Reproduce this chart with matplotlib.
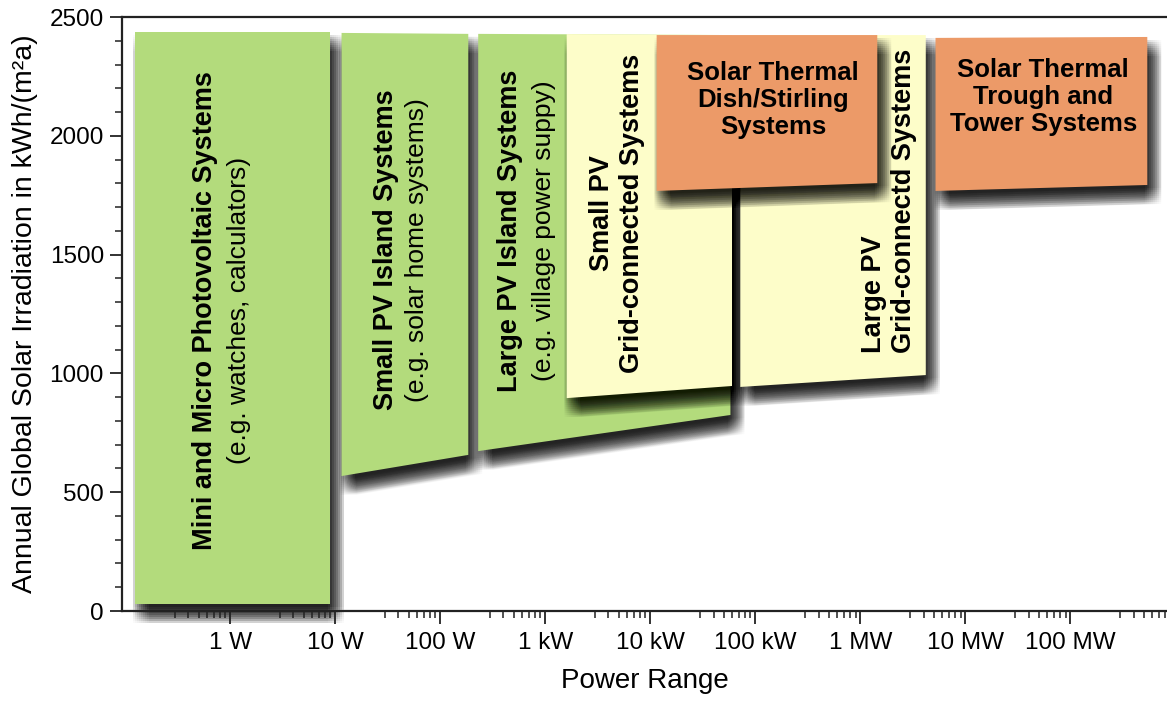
import matplotlib
matplotlib.use("Agg")
import matplotlib.pyplot as plt
from matplotlib.patches import Polygon
from matplotlib.transforms import ScaledTranslation
from matplotlib.ticker import FixedLocator, NullFormatter

plt.rcParams['font.family'] = ['Liberation Sans', 'DejaVu Sans']

# power ranges (W) and irradiation ranges (kWh/(m²a)) of each system type
systems = ["Mini/Micro PV", "Small PV island", "Large PV island", "Small PV grid",
           "Large PV grid", "Dish/Stirling", "Trough/Tower"]
power_min = [0.125, 11.5, 230, 1600, 72000, 11500, 5.2e6]
power_max = [9.0, 185, 58000, 60000, 4.2e6, 1.45e6, 5.4e8]
irr_top_left = [2435, 2433, 2429, 2428, 2424, 2424, 2412]
irr_top_right = [2435, 2429, 2424, 2424, 2424, 2424, 2416]
irr_bot_left = [30, 568, 673, 896, 943, 1768, 1768]
irr_bot_right = [30, 657, 825, 947, 993, 1801, 1793]

green = "#b3db7c"
yellow = "#fdfdc9"
orange = "#ec9a68"
box_colors = [green, green, green, yellow, yellow, orange, orange]

x_ticks = [1, 10, 100, 1e3, 1e4, 1e5, 1e6, 1e7, 1e8]
x_ticklabels = ["1 W", "10 W", "100 W", "1 kW", "10 kW", "100 kW", "1 MW", "10 MW", "100 MW"]
y_ticks = [0, 500, 1000, 1500, 2000, 2500]

fig = plt.figure(figsize=(11.67, 7.04), dpi=100)
ax = fig.add_axes([122 / 1167, 93 / 704, 1045 / 1167, 594 / 704])
ax.set_xscale("log")
ax.set_xlim(10 ** -1.03, 10 ** 8.92)
ax.set_ylim(0, 2500)

# soft drop shadow = faint shifted copies (a small box blur)
blur = [-8, -6, -4, -2, 0, 2, 4, 6, 8]
for i in range(len(systems)):
    pts = [(power_min[i], irr_top_left[i]), (power_max[i], irr_top_right[i]),
           (power_max[i], irr_bot_right[i]), (power_min[i], irr_bot_left[i])]
    for bx in blur:
        for by in blur:
            shift = ScaledTranslation((6 + bx) / 100, (-11 + by) / 100, fig.dpi_scale_trans)
            ax.add_patch(Polygon(pts, closed=True, facecolor="black", edgecolor="none",
                                 alpha=0.02, transform=ax.transData + shift,
                                 clip_on=False, zorder=1 + i))
    ax.add_patch(Polygon(pts, closed=True, facecolor=box_colors[i], edgecolor="none",
                         clip_on=False, zorder=1.5 + i))

bold = dict(fontsize=19.5, fontweight="bold", rotation=90, ha="center", va="center", zorder=20)
thin = dict(fontsize=19, rotation=90, ha="center", va="center", zorder=20)

ax.text(0.578, 1263, "Mini and Micro Photovoltaic Systems", **bold)
ax.text(1.22, 1263, "(e.g. watches, calculators)", **thin)
ax.text(30.6, 1519, "Small PV Island Systems", **bold)
ax.text(60.4, 1519, "(e.g. solar home systems)", **thin)
ax.text(464, 1599, "Large PV Island Systems", **bold)
ax.text(977, 1599, "(e.g. village power suppy)", **thin)
ax.text(3490, 1675, "Small PV", **bold)
ax.text(6740, 1675, "Grid-connected Systems", **bold)
ax.text(1.36e6, 1086, "Large PV", **dict(bold, va="bottom"))
ax.text(2.63e6, 1086, "Grid-connectd Systems", **dict(bold, va="bottom"))
ax.text(1.48e5, 2151, "Solar Thermal\nDish/Stirling\nSystems", fontsize=18.5,
        fontweight="bold", ha="center", va="center", linespacing=1.15, zorder=20)
ax.text(5.53e7, 2163, "Solar Thermal\nTrough and\nTower Systems", fontsize=18.5,
        fontweight="bold", ha="center", va="center", linespacing=1.15, zorder=20)

# axes styling
ax.spines["right"].set_visible(False)
for s in ["left", "bottom", "top"]:
    ax.spines[s].set_color("#222222")
    ax.spines[s].set_linewidth(1.6)
    ax.spines[s].set_zorder(30)

ax.xaxis.set_major_locator(FixedLocator(x_ticks))
ax.set_xticklabels(x_ticklabels)
minor_x = [m * 10 ** k for k in range(-2, 9) for m in range(3, 10)]
ax.xaxis.set_minor_locator(FixedLocator(minor_x))
ax.xaxis.set_minor_formatter(NullFormatter())
ax.yaxis.set_major_locator(FixedLocator(y_ticks))
ax.yaxis.set_minor_locator(FixedLocator(list(range(0, 2501, 100))))

ax.tick_params(which="major", direction="out", length=9, width=1.3, color="#222222",
               labelsize=17.5, pad=6)
ax.tick_params(which="minor", direction="out", length=5, width=1.1, color="#222222")
ax.tick_params(axis="x", which="both", top=False)
ax.tick_params(axis="y", which="major", pad=4)

ax.set_xlabel("Power Range", fontsize=20, labelpad=10)
ax.set_ylabel("Annual Global Solar Irradiation in kWh/(m²a)", fontsize=20.5, labelpad=8)

fig.savefig("out.png", dpi=100)
